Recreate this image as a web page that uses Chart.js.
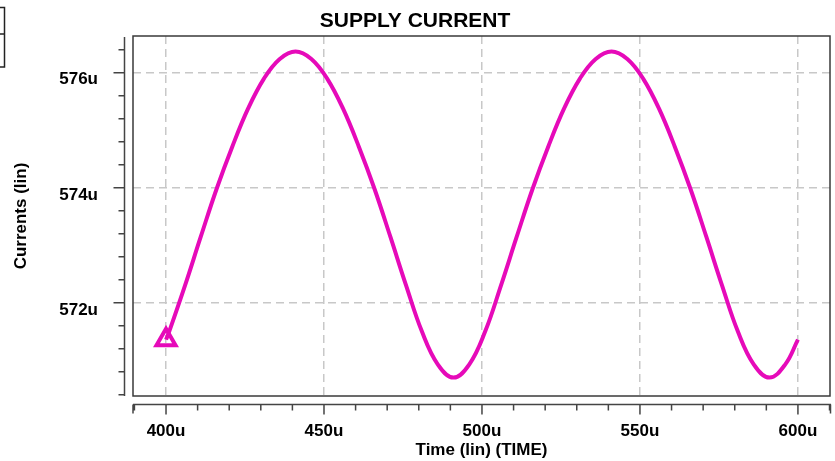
<!DOCTYPE html>
<html>
<head>
<meta charset="utf-8">
<script src="https://cdn.jsdelivr.net/npm/chart.js@4/dist/chart.umd.min.js"></script>
<style>
  html, body { margin: 0; padding: 0; background: #ffffff; }
  #wrap { width: 835px; height: 461px; position: relative; }
</style>
</head>
<body>
<div id="wrap"><canvas id="c" width="835" height="461"></canvas></div>
<script>
// ---- data (time in u-seconds, current in uA) ----
const times = [400,401,406,411,416,421,426,431,436,441,446,451,456,461,466,471,476,481,486,491,496,501,506,511,516,521,526,531,536,541,546,551,556,561,566,571,576,581,586,591,596,600];
const currents = [571.36,571.50,572.30,573.15,573.98,574.72,575.38,575.90,576.24,576.37,576.24,575.90,575.38,574.72,573.98,573.15,572.30,571.50,570.93,570.70,570.93,571.50,572.30,573.15,573.98,574.72,575.38,575.90,576.24,576.37,576.24,575.90,575.38,574.72,573.98,573.15,572.30,571.50,570.93,570.70,570.93,571.36];
const xTicks = [400,450,500,550,600];
const yTicks = [572,574,576];
const xMinorTicks = [390,410,420,430,440,460,470,480,490,510,520,530,540,560,570,580,590,610];
const yMinorTicks = [570.4,570.8,571.2,571.6,572.4,572.8,573.2,573.6,574.4,574.8,575.2,575.6,576.4];
const xRange = [389.55, 610.15];
const yRange = [570.38, 576.64];
const titleText = 'SUPPLY CURRENT';
const xTitle = 'Time (lin) (TIME)';
const yTitle = 'Currents (lin)';
const lineColor = 'rgb(230,10,185)';

const FONT = '"Liberation Sans", Arial, sans-serif';

const decorPlugin = {
  id: 'decor',
  afterDraw(chart) {
    const ctx = chart.ctx;
    const a = chart.chartArea;
    const xs = chart.scales.x, ys = chart.scales.y;
    ctx.save();
    // plot frame
    ctx.strokeStyle = '#3a3a3a';
    ctx.lineWidth = 1.5;
    ctx.strokeRect(a.left, a.top, a.right - a.left, a.bottom - a.top);
    // detached left axis
    const axX = a.left - 8.5;
    ctx.strokeStyle = '#444';
    ctx.lineWidth = 1.5;
    ctx.beginPath();
    ctx.moveTo(axX, a.top + 1); ctx.lineTo(axX, a.bottom);
    yTicks.forEach(v => { const p = ys.getPixelForValue(v); ctx.moveTo(axX - 11, p); ctx.lineTo(axX, p); });
    yMinorTicks.forEach(v => { const p = ys.getPixelForValue(v); ctx.moveTo(axX - 6, p); ctx.lineTo(axX, p); });
    ctx.stroke();
    // detached bottom axis
    const axY = a.bottom + 8.5;
    ctx.beginPath();
    ctx.moveTo(a.left, axY); ctx.lineTo(a.right + 1, axY);
    xTicks.forEach(v => { const p = xs.getPixelForValue(v); ctx.moveTo(p, axY); ctx.lineTo(p, axY + 10); });
    xMinorTicks.forEach(v => { const p = xs.getPixelForValue(v); ctx.moveTo(p, axY); ctx.lineTo(p, axY + 6); });
    ctx.moveTo(a.left, axY); ctx.lineTo(a.left, axY + 9);
    ctx.moveTo(a.right + 0.5, axY); ctx.lineTo(a.right + 0.5, axY + 9);
    ctx.stroke();
    // clipped legend box at top-left
    ctx.strokeStyle = '#222';
    ctx.lineWidth = 1.5;
    ctx.strokeRect(-2, 7.5, 6.5, 59.5);
    ctx.beginPath();
    ctx.moveTo(0, 34); ctx.lineTo(4, 34);
    ctx.stroke();
    ctx.restore();
  }
};

new Chart(document.getElementById('c'), {
  type: 'line',
  data: {
    datasets: [{
      data: times.map((t, i) => ({ x: t, y: currents[i] })),
      borderColor: lineColor,
      borderWidth: 4,
      tension: 0.4,
      fill: false,
      pointStyle: 'triangle',
      pointRadius: ctx => ctx.dataIndex === 0 ? 11 : 0,
      pointBorderWidth: 4,
      pointBorderColor: lineColor,
      pointBackgroundColor: 'rgba(255,255,255,0)',
      pointHoverRadius: 0
    }]
  },
  options: {
    responsive: false,
    animation: false,
    events: [],
    layout: { autoPadding: false, padding: { left: 0, right: 5, top: 0, bottom: 0 } },
    plugins: {
      legend: { display: false },
      tooltip: { enabled: false },
      title: {
        display: true,
        text: titleText,
        color: '#000',
        font: { family: FONT, size: 21, weight: 'bold' },
        padding: { top: 9, bottom: 1.8 }
      }
    },
    scales: {
      x: {
        type: 'linear',
        min: xRange[0], max: xRange[1],
        afterBuildTicks: s => { s.ticks = xTicks.map(v => ({ value: v })); },
        afterFit: s => { s.height = 65; s.paddingLeft = 0; s.paddingRight = 0; },
        grid: { color: '#c8c8c8', lineWidth: 1.5, drawTicks: true, tickLength: 25, tickColor: 'rgba(0,0,0,0)' },
        border: { display: false, dash: [8, 5] },
        ticks: {
          color: '#000',
          font: { family: FONT, size: 17, weight: 'bold' },
          padding: 0,
          maxRotation: 0,
          callback: v => v + 'u'
        },
        title: {
          display: true, text: xTitle, color: '#000',
          font: { family: FONT, size: 17, weight: 'bold' },
          padding: { top: 0, bottom: 0 }
        }
      },
      y: {
        type: 'linear',
        min: yRange[0], max: yRange[1],
        afterBuildTicks: s => { s.ticks = yTicks.map(v => ({ value: v })); },
        afterFit: s => { s.width = 133; s.paddingTop = 0; s.paddingBottom = 0; },
        grid: { color: '#c8c8c8', lineWidth: 1.5, drawTicks: false },
        border: { display: false, dash: [8, 5] },
        ticks: {
          color: '#000',
          font: { family: FONT, size: 17, weight: 'bold' },
          padding: 35,
          labelOffset: 7,
          callback: v => v + 'u'
        },
        title: {
          display: true, text: yTitle, color: '#000',
          font: { family: FONT, size: 17, weight: 'bold' },
          padding: { top: 11, bottom: 0 }
        }
      }
    }
  },
  plugins: [decorPlugin]
});
</script>
</body>
</html>
